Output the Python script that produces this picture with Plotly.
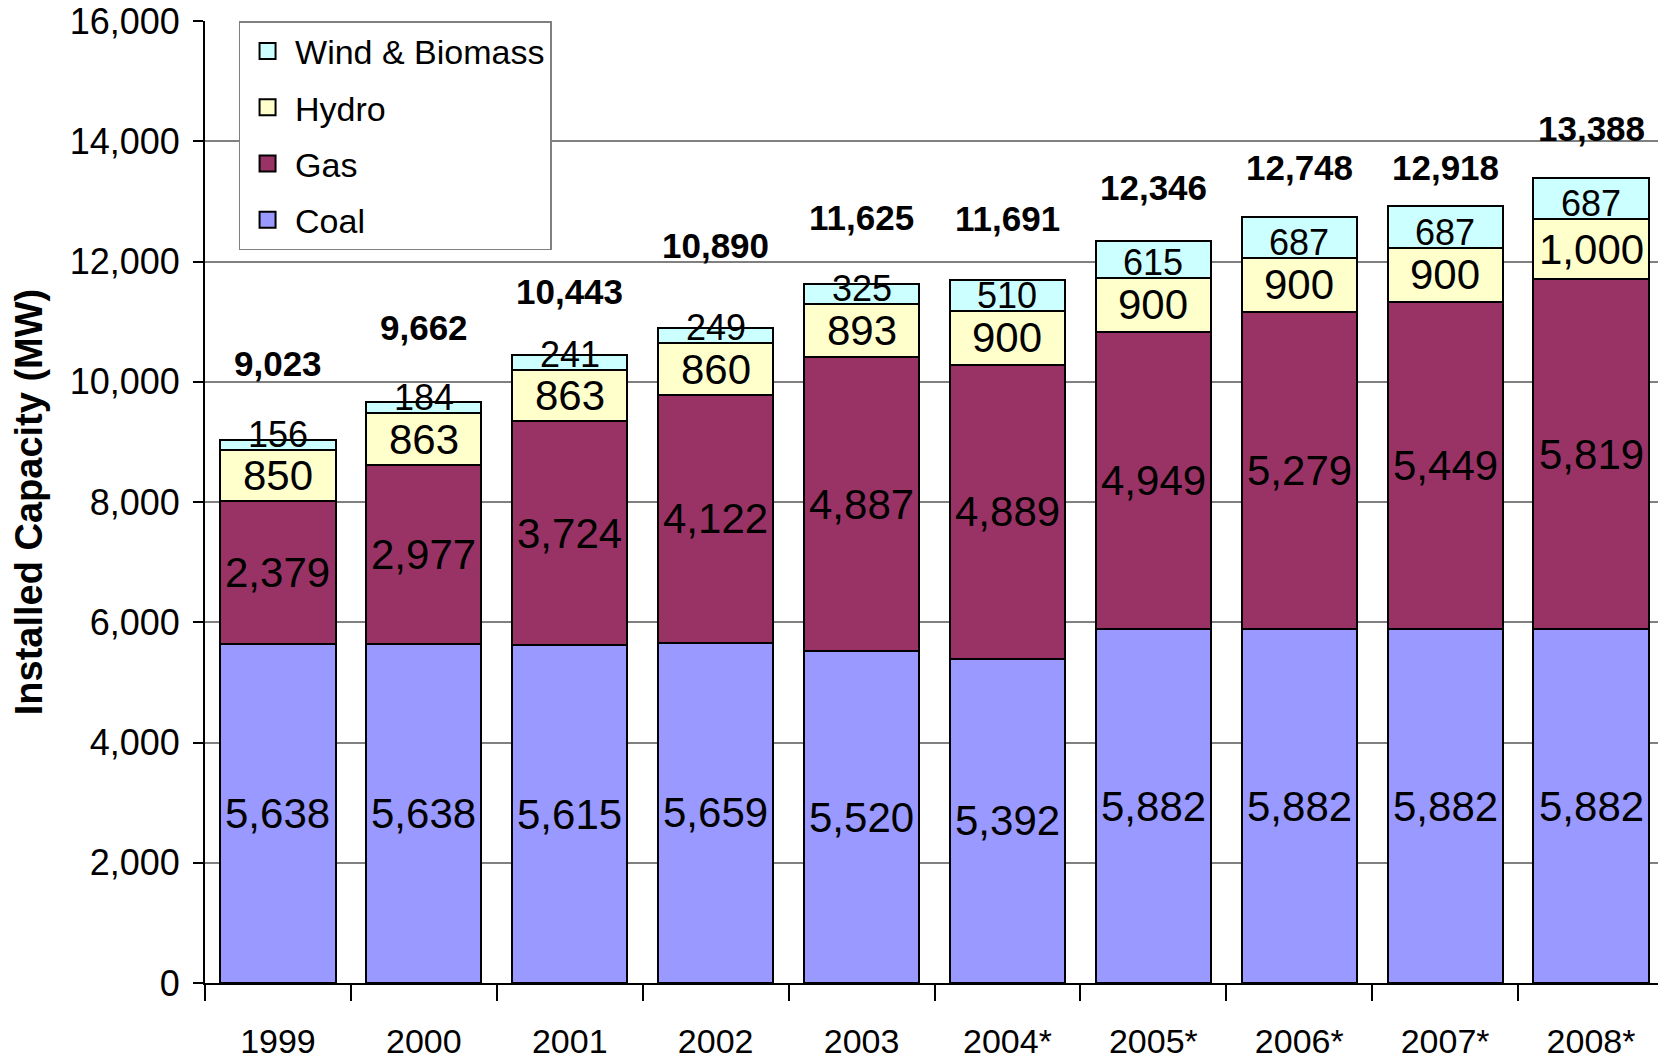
import plotly.graph_objects as go

years = ["1999", "2000", "2001", "2002", "2003", "2004*", "2005*", "2006*", "2007*", "2008*"]
coal = [5638, 5638, 5615, 5659, 5520, 5392, 5882, 5882, 5882, 5882]
gas = [2379, 2977, 3724, 4122, 4887, 4889, 4949, 5279, 5449, 5819]
hydro = [850, 863, 863, 860, 893, 900, 900, 900, 900, 1000]
wind = [156, 184, 241, 249, 325, 510, 615, 687, 687, 687]
totals = [9023, 9662, 10443, 10890, 11625, 11691, 12346, 12748, 12918, 13388]
y_ticks = [0, 2000, 4000, 6000, 8000, 10000, 12000, 14000, 16000]

# pixel lift of each hand-placed total label above its bar (styling only)
total_label_lift = [77, 75, 64, 83, 67, 62, 53, 49, 39, 50]

FONT = "Arial, 'Liberation Sans', sans-serif"

series = [
    ("Coal", coal, "#9999FF", 4),
    ("Gas", gas, "#993366", 3),
    ("Hydro", hydro, "#FFFFCC", 2),
    ("Wind & Biomass", wind, "#CCFFFF", 1),
]

fig = go.Figure()
for name, vals, col, rank in series:
    fig.add_trace(go.Bar(
        x=years, y=vals, name=name, showlegend=False,
        marker=dict(color=col, line=dict(color="black", width=2)),
        hoverinfo="x+y+name",
    ))
# legend entries with larger swatches
for name, vals, col, rank in series:
    fig.add_trace(go.Scatter(
        x=[None], y=[None], mode="markers", name=name, legendrank=rank,
        legendgroup=name,
        marker=dict(symbol="square", size=16, color=col, line=dict(color="black", width=2)),
    ))

annotations = []
base = [0] * len(years)
for name, vals, col, rank in series:
    for i, v in enumerate(vals):
        if name == "Wind & Biomass":
            annotations.append(dict(
                x=i, y=base[i], text=f"{v:,}", showarrow=False,
                yanchor="bottom", yshift=-7,
                font=dict(family=FONT, size=36, color="black")))
        else:
            annotations.append(dict(
                x=i, y=base[i] + v / 2, text=f"{v:,}", showarrow=False,
                yanchor="middle",
                font=dict(family=FONT, size=42, color="black")))
        base[i] += v

for i, t in enumerate(totals):
    annotations.append(dict(
        x=i, y=t, text=f"<b>{t:,}</b>", showarrow=False,
        yanchor="middle", yshift=total_label_lift[i],
        font=dict(family=FONT, size=35, color="black")))

# the page body adds an 8px offset, so the figure is sized 8px smaller
fig.update_layout(
    width=1658, height=1053,
    margin=dict(l=197, r=2, t=13, b=78),
    paper_bgcolor="white", plot_bgcolor="white",
    barmode="stack", bargap=0.21,
    font=dict(family=FONT, size=34, color="black"),
    showlegend=True,
    legend=dict(
        x=0.023, y=1.0, xanchor="left", yanchor="top",
        traceorder="grouped", tracegroupgap=9,
        bgcolor="white", bordercolor="#808080", borderwidth=1.5,
        font=dict(family=FONT, size=34, color="black"),
        itemwidth=45,
    ),
    annotations=annotations,
    xaxis=dict(
        type="category", showline=True, linecolor="black", linewidth=2,
        ticks="outside", tickson="boundaries", ticklen=16, tickcolor="black", tickwidth=1.5,
        ticklabelstandoff=27, tickangle=0, automargin=False,
        tickfont=dict(family=FONT, size=34, color="black"),
        showgrid=False, mirror=False,
    ),
    yaxis=dict(
        range=[0, 16000], tickvals=y_ticks, tickformat=",d",
        showline=True, linecolor="black", linewidth=2,
        ticks="outside", ticklen=10, tickcolor="black", tickwidth=1.5,
        ticklabelstandoff=6, automargin=False, ticklabeloverflow="allow",
        showgrid=True, gridcolor="#808080", gridwidth=1.5,
        zeroline=False,
        tickfont=dict(family=FONT, size=36, color="black"),
        title=dict(text="<b>Installed Capacity (MW)</b>", standoff=37,
                   font=dict(family=FONT, size=38, color="black")),
    ),
    shapes=[dict(type="line", xref="paper", yref="paper", x0=1, x1=1, y0=0, y1=1,
                 line=dict(color="#808080", width=1.5))],
)

fig.write_html("out.html")
